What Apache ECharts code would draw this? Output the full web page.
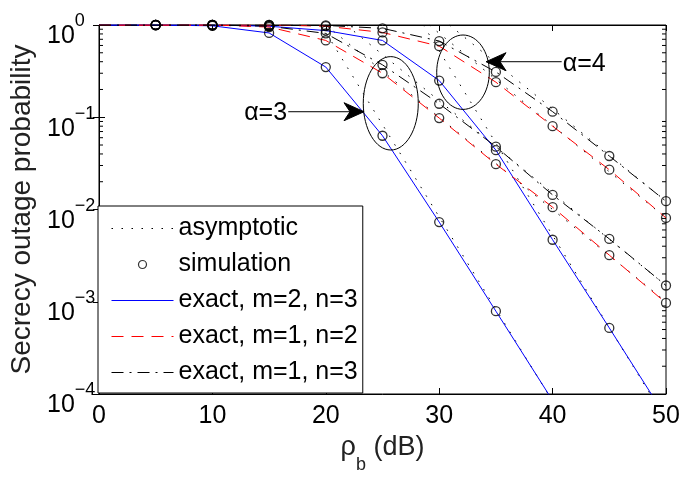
<!DOCTYPE html>
<html>
<head>
  <meta charset="UTF-8">
  <title>Secrecy outage probability</title>
  <script type="text/javascript" src="https://cdn.jsdelivr.net/npm/echarts@6/dist/echarts.min.js"></script>
  <style>html, body { margin: 0; padding: 0; background: #fff; }</style>
</head>
<body>
<div id="chart" style="width:694px; height:483px;"></div>
<script>
  // ============ data ============
  const snr = [0, 5, 10, 15, 20, 25, 30, 35, 40, 45, 50];   // rho_b (dB)
  const xTicks = [0, 10, 20, 30, 40, 50];

  // exact curves, alpha = 3
  const blueA3 = [1, 1, 0.98, 0.82, 0.35, 0.063, 0.0073, 7.9e-4, 8.5e-5];
  const redA3 = [1, 1, 1, 0.95, 0.68, 0.30, 0.098, 0.031, 0.0106, 0.0032, 9.7e-4];
  const blackA3 = [1, 1, 1, 0.97, 0.81, 0.37, 0.14, 0.048, 0.0144, 0.0048, 0.0015];
  // exact curves, alpha = 4
  const blueA4 = [1, 1, 1, 0.97, 0.87, 0.68, 0.25, 0.044, 0.0047, 5.2e-4, 5.6e-5];
  const redA4 = [1, 1, 1, 1, 0.97, 0.83, 0.59, 0.24, 0.080, 0.027, 0.0081];
  const blackA4 = [1, 1, 1, 1, 0.99, 0.92, 0.67, 0.31, 0.115, 0.038, 0.0123];

  // asymptotes (straight lines on this plot): [snr, value] end points
  const asymBlueA3 = [[19.6, 1], [39.6, 1e-4]];
  const asymBlueA4 = [[28.6, 1], [48.6, 1e-4]];
  const asymRedA3 = [[20, 1], [50, 1e-3]];
  const asymBlackA3 = [[21.8, 1], [50, 1.5e-3]];
  const asymRedA4 = [[29.1, 1], [50, 8.1e-3]];
  const asymBlackA4 = [[30.9, 1], [50, 1.23e-2]];

  // simulation points start at 5 dB
  const simStart = 5;

  const legendNames = ['asymptotic', 'simulation', 'exact, m=2, n=3', 'exact, m=1, n=2', 'exact, m=1, n=3'];

  // minor ticks of the log axis: 2..9 x 10^k
  const decades = [-4, -3, -2, -1];
  const minorMult = [2, 3, 4, 5, 6, 7, 8, 9];

  // annotations (data coordinates)
  const notes = [
    {text: 'α=3', ellipse: [25.73, 0.1416], tip: [23.37, 0.1148], tail: [16.69, 0.1148], label: [12.8, 0.1104]},
    {text: 'α=4', ellipse: [32.10, 0.3078], tip: [34.13, 0.400], tail: [40.80, 0.400], label: [40.9, 0.378]}
  ];
  const ellipseR = [[27.5, 46.7], [26.3, 37.2]];

  // ============ styles ============
  const FONT = '"Liberation Sans", Arial, Helvetica, sans-serif';
  const BLUE = '#0000ff', RED = '#ff0000', BLACK = '#000000';
  const DOT = [1.5, 8.5], DASH = [12, 8], DASHDOT = [12, 6, 2, 6];

  let chart = echarts.init(document.getElementById('chart'), null, {renderer: 'canvas'});

  function pairs(vals) {
    return vals.map((v, i) => [snr[i], v]);
  }

  function exact(name, vals, color, dash) {
    return {
      name: name, type: 'line', data: pairs(vals), symbol: 'none', showSymbol: false,
      lineStyle: {color: color, width: 1, type: dash}, itemStyle: {color: color},
      clip: true, silent: true, z: 3
    };
  }

  function asym(pts) {
    return {
      name: 'asymptotic', type: 'line', data: pts, symbol: 'none', showSymbol: false,
      lineStyle: {color: BLACK, width: 1, type: DOT}, itemStyle: {color: BLACK},
      clip: true, silent: true, z: 2
    };
  }

  function sim(vals) {
    return {
      name: 'simulation', type: 'scatter',
      data: pairs(vals).filter(p => p[0] >= simStart && p[1] >= 1e-4),
      symbol: 'circle', symbolSize: 9,
      itemStyle: {color: 'rgba(0,0,0,0)', borderColor: BLACK, borderWidth: 1.3},
      clip: true, silent: true, z: 4
    };
  }

  let minorTicks = [];
  decades.forEach(d => minorMult.forEach(m => minorTicks.push([0, m * Math.pow(10, d)])));

  function expLabel(v) {
    let e = Math.round(Math.log10(v));
    return '{b|10}{e|' + (e < 0 ? '\u2212' + (-e) : e) + '}';
  }

  // legend entries: line entries hide the marker dot
  let legendData = legendNames.map(n => n === 'simulation'
    ? {name: n}
    : {name: n, itemStyle: {opacity: 0}});

  let option = {
    animation: false,
    backgroundColor: '#fff',
    textStyle: {fontFamily: FONT},
    grid: {left: 99, right: 28, top: 25, bottom: 89, show: true, borderColor: '#000', borderWidth: 1},
    legend: {
      data: legendData, orient: 'vertical', left: 98, top: 206,
      itemWidth: 62, itemHeight: 8, itemGap: 11,
      padding: [10, 5, 8, 13],
      backgroundColor: '#fff', borderColor: '#000', borderWidth: 1,
      textStyle: {fontSize: 25, color: '#000', fontFamily: FONT},
      lineStyle: {width: 1}, itemStyle: {borderWidth: 1.2},
      selectedMode: false, z: 10
    },
    xAxis: [{
      type: 'value', min: xTicks[0], max: xTicks[xTicks.length - 1], interval: 10, position: 'bottom',
      axisLine: {lineStyle: {color: '#000', width: 1}},
      axisTick: {inside: true, length: 6, lineStyle: {color: '#000'}},
      splitLine: {show: false},
      axisLabel: {color: '#000', fontSize: 25, margin: 10, fontFamily: FONT},
      name: '{a|ρ}{s|b}{a| (dB)}', nameLocation: 'middle', nameGap: 38,
      nameTextStyle: {
        rich: {
          a: {fontSize: 27, lineHeight: 30, verticalAlign: 'top', color: '#222', fontFamily: FONT},
          s: {fontSize: 18, lineHeight: 18, padding: [22, 0, 0, 0], verticalAlign: 'top', color: '#222', fontFamily: FONT}
        }
      }
    }, {
      type: 'value', min: xTicks[0], max: xTicks[xTicks.length - 1], interval: 10, position: 'top',
      axisLine: {lineStyle: {color: '#000', width: 1}},
      axisTick: {inside: true, length: 6, lineStyle: {color: '#000'}},
      axisLabel: {show: false}, splitLine: {show: false}
    }],
    yAxis: [{
      type: 'log', logBase: 10, min: 1e-4, max: 1, position: 'left',
      axisLine: {show: true, lineStyle: {color: '#000', width: 1}},
      axisTick: {inside: true, length: 6, lineStyle: {color: '#000'}},
      splitLine: {show: false},
      axisLabel: {
        formatter: expLabel, align: 'left', margin: 52,
        rich: {
          b: {fontSize: 25, lineHeight: 25, padding: [11.5, 0, 5, 0], verticalAlign: 'top', color: '#000', fontFamily: FONT},
          e: {fontSize: 18, lineHeight: 18, verticalAlign: 'top', color: '#000', fontFamily: FONT}
        }
      },
      name: 'Secrecy outage probability', nameLocation: 'middle', nameGap: 62,
      nameTextStyle: {fontSize: 28, color: '#222', fontFamily: FONT}
    }, {
      type: 'log', logBase: 10, min: 1e-4, max: 1, position: 'right',
      axisLine: {show: true, lineStyle: {color: '#000', width: 1}},
      axisTick: {inside: true, length: 6, lineStyle: {color: '#000'}},
      axisLabel: {show: false}, splitLine: {show: false}
    }],
    series: [
      asym(asymBlueA3), asym(asymBlueA4), asym(asymRedA3), asym(asymBlackA3), asym(asymRedA4), asym(asymBlackA4),
      exact('exact, m=2, n=3', blueA3, BLUE, 'solid'),
      exact('exact, m=2, n=3', blueA4, BLUE, 'solid'),
      exact('exact, m=1, n=2', redA3, RED, DASH),
      exact('exact, m=1, n=2', redA4, RED, DASH),
      exact('exact, m=1, n=3', blackA3, BLACK, DASHDOT),
      exact('exact, m=1, n=3', blackA4, BLACK, DASHDOT),
      sim(blueA3), sim(blueA4), sim(redA3), sim(redA4), sim(blackA3), sim(blackA4),
      {
        // minor ticks of the log axis on both sides
        name: 'minorTicks', type: 'custom', data: minorTicks, silent: true, z: 5,
        encode: {x: 0, y: 1},
        renderItem: function (params, api) {
          let cs = params.coordSys;
          let y = api.coord([0, api.value(1)])[1];
          return {
            type: 'group', children: [
              {type: 'line', shape: {x1: cs.x, y1: y, x2: cs.x + 4, y2: y}, style: {stroke: '#000', lineWidth: 1}},
              {type: 'line', shape: {x1: cs.x + cs.width - 4, y1: y, x2: cs.x + cs.width, y2: y}, style: {stroke: '#000', lineWidth: 1}}
            ]
          };
        }
      },
      {
        // ellipses, arrows and alpha labels
        name: 'notes', type: 'custom', data: notes.map((n, i) => [n.ellipse[0], n.ellipse[1], i]),
        silent: true, z: 6, encode: {x: 0, y: 1},
        renderItem: function (params, api) {
          let n = notes[params.dataIndex];
          let r = ellipseR[params.dataIndex];
          let c = api.coord(n.ellipse);
          let tip = api.coord(n.tip);
          let tail = api.coord(n.tail);
          let lab = api.coord(n.label);
          let dx = tip[0] - tail[0], dy = tip[1] - tail[1];
          let len = Math.sqrt(dx * dx + dy * dy);
          let ux = dx / len, uy = dy / len, nx = -uy, ny = ux;
          let head = [
            [tip[0], tip[1]],
            [tip[0] - 20 * ux + 9 * nx, tip[1] - 20 * uy + 9 * ny],
            [tip[0] - 14 * ux, tip[1] - 14 * uy],
            [tip[0] - 20 * ux - 9 * nx, tip[1] - 20 * uy - 9 * ny]
          ];
          return {
            type: 'group', children: [
              {type: 'ellipse', shape: {cx: c[0], cy: c[1], rx: r[0], ry: r[1]}, style: {fill: 'none', stroke: '#000', lineWidth: 1}},
              {type: 'line', shape: {x1: tail[0], y1: tail[1], x2: tip[0] - 14 * ux, y2: tip[1] - 14 * uy}, style: {stroke: '#000', lineWidth: 1}},
              {type: 'polygon', shape: {points: head}, style: {fill: '#000', stroke: '#000', lineWidth: 1}},
              {type: 'text', x: lab[0], y: lab[1], style: {text: n.text, fontSize: 25, fontFamily: FONT, fill: '#000', align: 'left', verticalAlign: 'middle'}}
            ]
          };
        }
      }
    ]
  };

  chart.setOption(option);
</script>
</body>
</html>
